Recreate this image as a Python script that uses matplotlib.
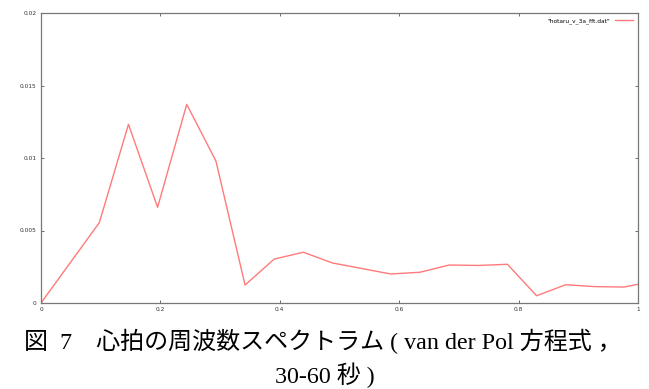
import matplotlib
matplotlib.use("Agg")
import matplotlib.pyplot as plt

# spectrum samples (frequency, power)
freq = [0.0, 0.0488, 0.0977, 0.1465, 0.1953, 0.2441, 0.2930, 0.3418, 0.3906,
        0.4395, 0.4883, 0.5371, 0.5859, 0.6348, 0.6836, 0.7324, 0.7813, 0.8301,
        0.8789, 0.9277, 0.9766, 1.0254]
power = [0.0, 0.00277, 0.00554, 0.01232, 0.0066, 0.0137, 0.00979, 0.00124,
         0.00303, 0.0035, 0.00276, 0.00238, 0.0020, 0.00212, 0.00262, 0.00259,
         0.00267, 0.0005, 0.00126, 0.00113, 0.0011, 0.0015]
x_ticks = [0, 0.2, 0.4, 0.6, 0.8, 1]
x_tick_labels = ["0", "0.2", "0.4", "0.6", "0.8", "1"]
y_ticks = [0, 0.005, 0.01, 0.015, 0.02]
y_tick_labels = ["0", "0.005", "0.01", "0.015", "0.02"]
series_name = '"hotaru_v_3a_fft.dat"'

fig = plt.figure(figsize=(6.49, 3.89), dpi=100)
ax = fig.add_axes([41 / 649, 1 - 303 / 389, 597 / 649, 290 / 389])

ax.plot(freq, power, color="#ff7a7a", lw=1.0, label=series_name)
ax.set_xlim(0, 1)
ax.set_ylim(0, 0.02)
ax.set_xticks(x_ticks)
ax.set_xticklabels(x_tick_labels)
ax.set_yticks(y_ticks)
ax.set_yticklabels(y_tick_labels)
ax.tick_params(direction="in", length=2.5, width=0.6, labelsize=4.2,
               top=True, right=True, color="#555555", labelcolor="#333333", pad=3)
for s in ax.spines.values():
    s.set_color("#777777")
    s.set_linewidth(0.9)

# gnuplot-style key: title first, line sample after it
leg = ax.legend(loc="upper right", frameon=False, fontsize=4.2,
                handlelength=3.0, markerfirst=False, borderaxespad=0.5)

cap_font = ["Liberation Serif", "Noto Sans CJK JP"]
fig.text(0.5 - 2 / 649, 1 - 341 / 389,
         "図  7　心拍の周波数スペクトラム ( van der Pol 方程式 ，",
         ha="center", va="center", fontsize=17.3, family=cap_font)
fig.text(0.5, 1 - 375 / 389, "30-60 秒 )",
         ha="center", va="center", fontsize=17.3, family=cap_font)

fig.savefig("out.png", dpi=100)
